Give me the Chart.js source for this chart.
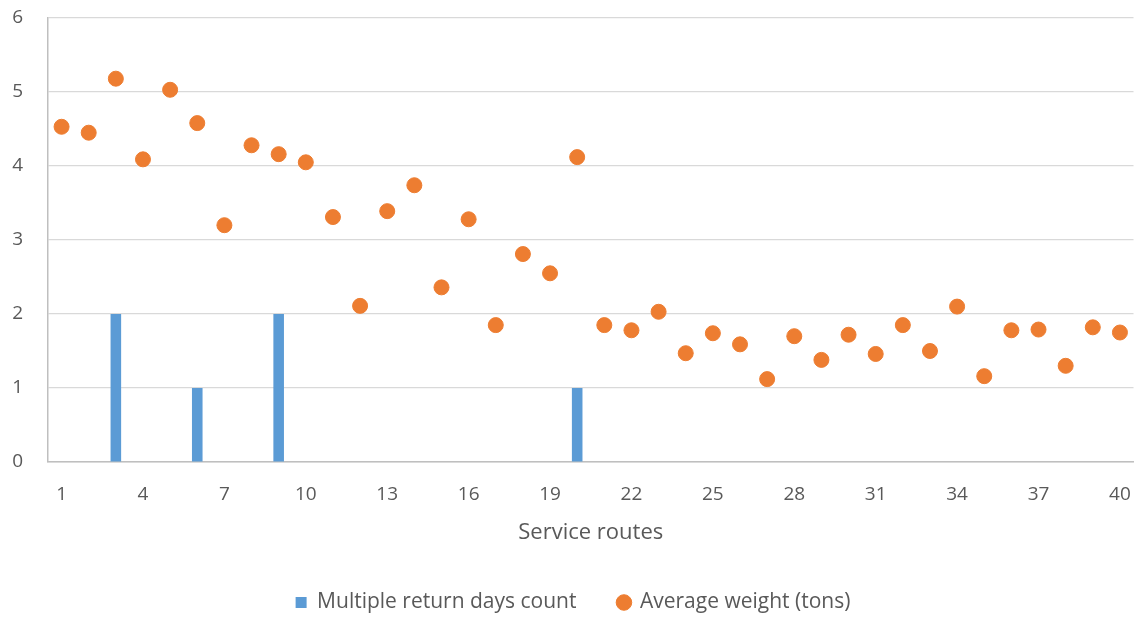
<!DOCTYPE html>
<html>
<head>
<meta charset="utf-8">
<script src="https://cdn.jsdelivr.net/npm/chart.js@4/dist/chart.umd.min.js"></script>
<style>
  html, body { margin: 0; padding: 0; background: #fff; }
  #wrap { position: relative; width: 1142px; height: 617px; }
</style>
</head>
<body>
<div id="wrap"><canvas id="chart"></canvas></div>
<script>
const routes = Array.from({ length: 40 }, (_, i) => String(i + 1));

// multiple return days per route (0 where no bar)
const returnDays = [0, 0, 2, 0, 0, 1, 0, 0, 2, 0,
                    0, 0, 0, 0, 0, 0, 0, 0, 0, 1,
                    0, 0, 0, 0, 0, 0, 0, 0, 0, 0,
                    0, 0, 0, 0, 0, 0, 0, 0, 0, 0];

const avgWeight = [4.53, 4.45, 5.18, 4.09, 5.03, 4.58, 3.20, 4.28, 4.16, 4.05,
                   3.31, 2.11, 3.39, 3.74, 2.36, 3.28, 1.85, 2.81, 2.55, 4.12,
                   1.85, 1.78, 2.03, 1.47, 1.74, 1.59, 1.12, 1.70, 1.38, 1.72,
                   1.46, 1.85, 1.50, 2.10, 1.16, 1.78, 1.79, 1.30, 1.82, 1.75];

const textColor = "#595959";
const fontFamily = "'Open Sans', sans-serif";

new Chart(document.getElementById("chart").getContext("2d"), {
  type: "bar",
  data: {
    labels: routes,
    datasets: [
      {
        label: "Multiple return days count",
        data: returnDays,
        backgroundColor: "#5b9bd5",
        barPercentage: 0.39,
        categoryPercentage: 1,
        pointStyle: "rect",
        order: 2
      },
      {
        type: "line",
        label: "Average weight (tons)",
        data: avgWeight,
        showLine: false,
        pointRadius: 7.5,
        pointHoverRadius: 7.5,
        pointBackgroundColor: "#ed7d31",
        pointBorderColor: "#ed7d31",
        backgroundColor: "#ed7d31",
        borderColor: "#ed7d31",
        pointStyle: "circle",
        order: 1
      }
    ]
  },
  options: {
    responsive: true,
    maintainAspectRatio: false,
    animation: false,
    layout: { padding: { left: 8, right: 4, top: 18, bottom: -6 } },
    plugins: {
      tooltip: { enabled: false },
      legend: {
        position: "bottom",
        labels: {
          usePointStyle: true,
          boxWidth: 11,
          boxHeight: 11,
          padding: 42,
          color: textColor,
          font: { family: fontFamily, size: 21 },
          sort: (a, b) => a.datasetIndex - b.datasetIndex
        }
      }
    },
    scales: {
      x: {
        grid: { color: "rgba(0,0,0,0)", drawTicks: false },
        border: { display: true, color: "#bfbfbf", width: 1.5 },
        ticks: {
          autoSkip: false,
          maxRotation: 0,
          padding: 21,
          color: textColor,
          font: { family: fontFamily, size: 19 },
          callback: function (val, index) {
            return index % 3 === 0 ? this.getLabelForValue(val) : "";
          }
        },
        title: {
          display: true,
          text: "Service routes",
          color: textColor,
          font: { family: fontFamily, size: 22 }
        },
        afterFit: s => {
          s.height = 88;
          s.paddingLeft = 0;
          s.paddingRight = 0;
        }
      },
      y: {
        min: 0,
        max: 6,
        ticks: {
          stepSize: 1,
          padding: 25,
          color: textColor,
          font: { family: fontFamily, size: 19 }
        },
        grid: { color: "#d9d9d9", lineWidth: 1.2, drawTicks: false },
        border: { display: true, color: "#bfbfbf", width: 1.5 },
        afterFit: s => {
          s.width = 40;
          s.paddingTop = 0;
          s.paddingBottom = 0;
        }
      }
    }
  }
});
</script>
</body>
</html>
